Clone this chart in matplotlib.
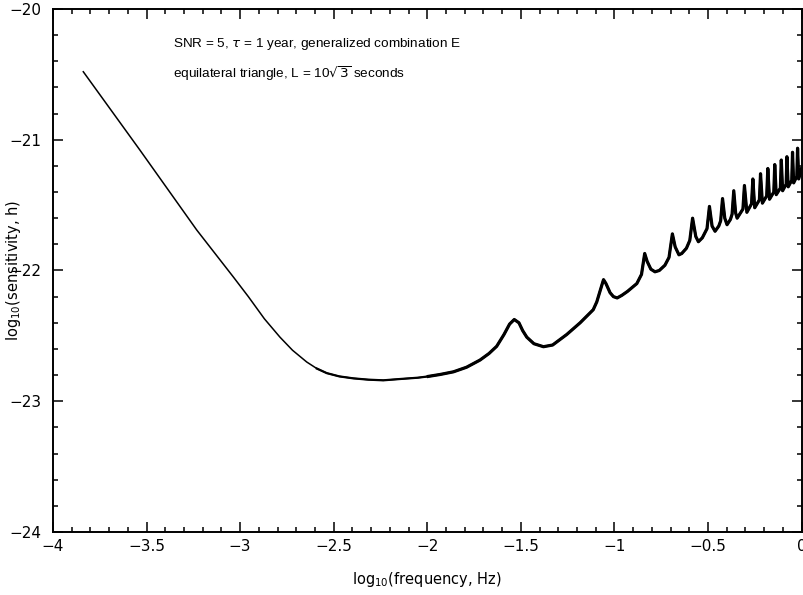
import numpy as np
import matplotlib
matplotlib.use("Agg")
import matplotlib.pyplot as plt
from matplotlib.ticker import MultipleLocator, FuncFormatter

# log10(frequency, Hz) and log10(sensitivity, h)
log_freq = [-3.838, -3.535, -3.232, -3.036, -2.956, -2.870, -2.787, -2.720,
            -2.644, -2.590, -2.537, -2.470, -2.395, -2.315, -2.235, -2.145,
            -2.050, -1.994, -1.930, -1.860, -1.790, -1.718, -1.670, -1.629,
            -1.590, -1.560, -1.535, -1.510, -1.490, -1.468, -1.430, -1.379,
            -1.330, -1.255, -1.183, -1.113, -1.094, -1.075, -1.058, -1.045,
            -1.023, -1.005, -0.985, -0.960, -0.930, -0.880, -0.855, -0.838,
            -0.825, -0.805, -0.783, -0.760, -0.730, -0.708, -0.690, -0.675,
            -0.655, -0.640, -0.615, -0.597, -0.582, -0.565, -0.551, -0.530,
            -0.505, -0.492, -0.478, -0.462, -0.442, -0.432, -0.422, -0.410,
            -0.398, -0.380, -0.371, -0.362, -0.352, -0.344, -0.313, -0.305,
            -0.292, -0.267, -0.260, -0.250, -0.225, -0.219, -0.209, -0.186,
            -0.180, -0.171, -0.148, -0.143, -0.135, -0.113, -0.108, -0.101,
            -0.082, -0.078, -0.071, -0.052, -0.048, -0.042, -0.025, -0.021,
            -0.015, 0.0]
log_sens = [-20.48, -21.08, -21.69, -22.05, -22.20, -22.37, -22.51, -22.61,
            -22.70, -22.75, -22.785, -22.81, -22.825, -22.835, -22.84, -22.83,
            -22.82, -22.81, -22.795, -22.775, -22.74, -22.685, -22.635, -22.58,
            -22.49, -22.41, -22.375, -22.40, -22.46, -22.51, -22.56, -22.583,
            -22.57, -22.49, -22.40, -22.30, -22.24, -22.15, -22.07, -22.10,
            -22.17, -22.20, -22.21, -22.19, -22.16, -22.10, -22.03, -21.87,
            -21.93, -21.99, -22.01, -22.00, -21.96, -21.90, -21.72, -21.82,
            -21.88, -21.87, -21.83, -21.77, -21.60, -21.74, -21.78, -21.75,
            -21.68, -21.51, -21.66, -21.70, -21.66, -21.62, -21.45, -21.60,
            -21.65, -21.61, -21.57, -21.39, -21.56, -21.60, -21.53, -21.35,
            -21.555, -21.49, -21.30, -21.52, -21.46, -21.26, -21.485, -21.43,
            -21.22, -21.455, -21.40, -21.19, -21.42, -21.37, -21.155, -21.39,
            -21.34, -21.13, -21.36, -21.31, -21.096, -21.33, -21.28, -21.065,
            -21.30, -21.22]

note_1 = r"SNR = 5, $\tau$ = 1 year, generalized combination E"
note_2 = r"equilateral triangle, L = 10$\sqrt{3}$ seconds"

plt.rcParams['font.family'] = ['DejaVu Sans']
plt.rcParams['mathtext.fontset'] = 'dejavusans'


def tick_fmt(v, pos):
    s = "%g" % v
    if s == "-0":
        s = "0"
    return s.replace("-", "\u2212")


fig = plt.figure(figsize=(8.04, 5.95), dpi=100)
ax = fig.add_axes([0.0659, 0.1059, 0.9310, 0.8790])

x = np.array(log_freq)
y = np.array(log_sens)
ax.plot(x, y, color='black', linewidth=1.1, solid_joinstyle='round')
# the noisy high-frequency part looks heavier
mid = x >= -2.6
ax.plot(x[mid], y[mid], color='black', linewidth=1.6, solid_joinstyle='round')
thick = x >= -2.0
ax.plot(x[thick], y[thick], color='black', linewidth=2.3, solid_joinstyle='round')

ax.set_xlim(-4, 0)
ax.set_ylim(-24, -20)
ax.xaxis.set_major_locator(MultipleLocator(0.5))
ax.xaxis.set_minor_locator(MultipleLocator(0.1))
ax.yaxis.set_major_locator(MultipleLocator(1))
ax.yaxis.set_minor_locator(MultipleLocator(0.2))
ax.xaxis.set_major_formatter(FuncFormatter(tick_fmt))
ax.yaxis.set_major_formatter(FuncFormatter(tick_fmt))

ax.tick_params(which='both', direction='in', top=True, right=True, width=1.1)
ax.tick_params(which='major', length=7)
ax.tick_params(which='minor', length=3.5)
ax.tick_params(axis='x', which='major', labelsize=11, pad=5)
ax.tick_params(axis='y', which='major', labelsize=11, pad=8)
for s in ax.spines.values():
    s.set_linewidth(1.4)

ax.set_xlabel(r"log$_{10}$(frequency, Hz)", fontsize=10.5)
ax.set_ylabel(r"log$_{10}$(sensitivity, h)", fontsize=10.5)
ax.xaxis.set_label_coords(0.5, -0.072)
ax.yaxis.set_label_coords(-0.040, 0.5)

ax.text(0.160, 0.933, note_1, transform=ax.transAxes, fontsize=9.7,
        va='center', family=['Liberation Sans', 'DejaVu Sans'])
ax.text(0.160, 0.877, note_2, transform=ax.transAxes, fontsize=9.7,
        va='center', family=['Liberation Sans', 'DejaVu Sans'])

fig.savefig("out.png", dpi=100)
